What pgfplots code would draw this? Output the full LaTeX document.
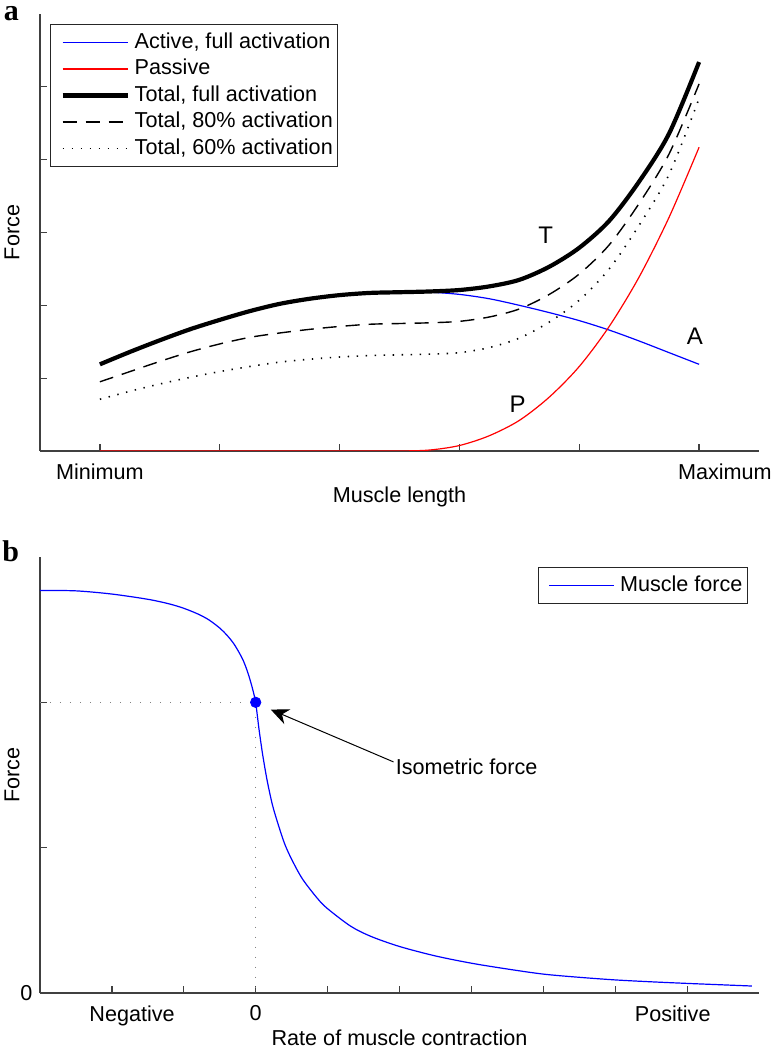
\documentclass[border=0pt]{standalone}
\usepackage{fontspec}
\setmainfont{Liberation Sans}
\newfontfamily\panelfont{Liberation Serif}
\usepackage{pgfplots}
\pgfplotsset{compat=1.18}
\usetikzlibrary{arrows.meta}

\newcommand\fs{\fontsize{10.8}{13}\selectfont}

\pgfplotsset{
  muscle/.style={
    scale only axis,
    width=359.5pt,
    axis x line*=bottom,
    axis y line*=left,
    axis line style={draw=black!75, line width=0.7pt},
    tick style={draw=black!75, line width=0.6pt},
    tick align=inside,
    major tick length=3.5pt,
    /pgf/number format/assume math mode=true,
    tick label style={font=\fs},
    label style={font=\fs, inner sep=0pt},
    xticklabel style={inner xsep=0pt, yshift=-2.5pt},
    extra x tick style={grid=none, major tick length=0pt},
    legend cell align=left,
    legend style={font=\fs, draw=black!85, line width=0.5pt,
      inner xsep=1.5pt, inner ysep=2.4pt,
      nodes={inner sep=1pt, text height=8.4pt, text depth=2.85pt}},
    legend image code/.code={\path (0pt,0pt) (37.5pt,0pt);
      \draw[##1] (3.5pt,0pt) -- (36pt,0pt);},
  },
}

\begin{document}
\fs
\begin{tikzpicture}
% page frame, same proportions as the reference
\path (-20pt,-27.5pt) rectangle (367pt,496.5pt);

% panel a: force-length
\begin{axis}[muscle,
  at={(0pt,271pt)}, anchor=south west,
  height=218.5pt,
  xmin=-0.1, xmax=1.1, ymin=0, ymax=6,
  xtick={0,0.2,0.4,0.6,0.8,1},
  xticklabels={Minimum,,,,,},
  extra x ticks={1.043},
  extra x tick labels={Maximum},
  ytick={0,1,2,3,4,5},
  yticklabels={},
  xlabel={Muscle length},
  ylabel={Force},
  xlabel style={at={(axis description cs:0.5,-0.1053)}, anchor=center},
  ylabel style={at={(axis description cs:-0.0389,0.5)}, anchor=center},
  legend style={at={(0.0139,0.977)}, anchor=north west},
]
\addplot[blue, line width=0.6pt, smooth] coordinates {
  (0,1.19) (0.05,1.36) (0.1,1.52) (0.15,1.67) (0.2,1.80) (0.25,1.92)
  (0.3,2.02) (0.35,2.09) (0.4,2.14) (0.45,2.17) (0.5,2.18) (0.55,2.18)
  (0.6,2.15) (0.65,2.09) (0.7,2.00) (0.75,1.90) (0.8,1.79) (0.85,1.66)
  (0.9,1.51) (0.95,1.35) (1,1.19)};
\addlegendentry{Active, full activation}
\addplot[red, line width=0.6pt, smooth] coordinates {
  (0,0) (0.25,0) (0.45,0) (0.5,0) (0.55,0.013) (0.6,0.075) (0.65,0.21)
  (0.7,0.42) (0.75,0.74) (0.8,1.16) (0.85,1.71) (0.9,2.39) (0.95,3.21) (1,4.17)};
\addlegendentry{Passive}
\addplot[black, line width=2.1pt, smooth] coordinates {
  (0,1.19) (0.05,1.36) (0.1,1.52) (0.15,1.67) (0.2,1.80) (0.25,1.92)
  (0.3,2.02) (0.35,2.09) (0.4,2.14) (0.45,2.17) (0.5,2.18) (0.55,2.19)
  (0.6,2.21) (0.65,2.26) (0.7,2.35) (0.75,2.53) (0.8,2.79) (0.85,3.16)
  (0.9,3.70) (0.95,4.36) (1,5.34)};
\addlegendentry{Total, full activation}
\addplot[black, line width=0.7pt, dash pattern=on 7pt off 4.5pt, smooth] coordinates {
  (0,0.95) (0.05,1.09) (0.1,1.23) (0.15,1.36) (0.2,1.47) (0.25,1.56)
  (0.3,1.62) (0.35,1.67) (0.4,1.71) (0.45,1.74) (0.5,1.75) (0.55,1.76)
  (0.6,1.78) (0.65,1.84) (0.7,1.95) (0.75,2.15) (0.8,2.43) (0.85,2.83)
  (0.9,3.40) (0.95,4.08) (1,5.04)};
\addlegendentry{Total, 80\% activation}
\addplot[black, line width=0.8pt, dash pattern=on 0.7pt off 3.8pt, smooth] coordinates {
  (0,0.71) (0.05,0.82) (0.1,0.92) (0.15,1.01) (0.2,1.09) (0.25,1.16)
  (0.3,1.22) (0.35,1.26) (0.4,1.29) (0.45,1.31) (0.5,1.32) (0.55,1.33)
  (0.6,1.35) (0.65,1.42) (0.7,1.55) (0.75,1.77) (0.8,2.07) (0.85,2.50)
  (0.9,3.10) (0.95,3.80) (1,4.84)};
\addlegendentry{Total, 60\% activation}
\node[inner sep=0pt, font=\fontsize{12}{14}\selectfont] at (axis cs:0.744,2.96) {T};
\node[inner sep=0pt, font=\fontsize{12}{14}\selectfont] at (axis cs:0.993,1.57) {A};
\node[inner sep=0pt, font=\fontsize{12}{14}\selectfont] at (axis cs:0.697,0.64) {P};
\end{axis}

% panel b: force-velocity
\begin{axis}[muscle,
  at={(0pt,0pt)}, anchor=south west,
  height=218pt,
  xmin=-3, xmax=7, ymin=0, ymax=3,
  xtick={-2,-1,0,1,2,3,4,5,6},
  xticklabels={,,\mbox{0},,,,,,},
  extra x ticks={-1.72,5.8},
  extra x tick labels={Negative,Positive},
  ytick={0,1,2},
  yticklabels={\mbox{0},,},
  xlabel={Rate of muscle contraction},
  ylabel={Force},
  xlabel style={at={(axis description cs:0.5,-0.1032)}, anchor=center},
  ylabel style={at={(axis description cs:-0.0389,0.5)}, anchor=center},
  legend style={at={(0.9847,0.977)}, anchor=north east},
]
\addplot[black!50, line width=0.6pt, dash pattern=on 0.6pt off 4.4pt, forget plot]
  coordinates {(-3,2) (0,2) (0,0)};
\addplot[blue, line width=0.6pt, smooth] coordinates {
  (-3,2.77) (-2.5,2.767) (-2,2.745) (-1.5,2.709) (-1.2,2.677) (-1,2.647)
  (-0.8,2.607) (-0.65,2.567) (-0.5,2.511) (-0.4,2.462) (-0.3,2.40)
  (-0.2,2.315) (-0.15,2.26) (-0.1,2.19) (-0.05,2.105) (-0.02,2.046) (0,2.0)
  (0.02,1.92) (0.05,1.80) (0.1,1.63) (0.16,1.46) (0.23,1.30) (0.3,1.18)
  (0.4,1.03) (0.5,0.92) (0.65,0.785) (0.86,0.65) (1.0,0.58) (1.32,0.46)
  (1.6,0.39) (2.0,0.32) (2.5,0.255) (3.0,0.205) (3.5,0.165) (4.0,0.13)
  (4.5,0.108) (5.0,0.09) (5.5,0.077) (6.0,0.066) (6.5,0.056) (6.9,0.048)};
\addlegendentry{Muscle force}
\addplot[blue, only marks, mark=*, mark size=2.6pt, forget plot] coordinates {(0,2)};
\draw[-{Stealth[length=9pt,width=8pt]}, line width=0.5pt]
  (axis cs:1.917,1.59) -- (axis cs:0.21,1.95);
\node[inner sep=0pt, anchor=west] at (axis cs:1.944,1.56) {Isometric force};
\end{axis}

\node[font=\panelfont\bfseries\fontsize{15}{17}\selectfont, inner sep=0pt] at (-14.25pt,489.5pt) {a};
\node[font=\panelfont\bfseries\fontsize{15}{17}\selectfont, inner sep=0pt] at (-14.6pt,220.75pt) {b};
\end{tikzpicture}
\end{document}
